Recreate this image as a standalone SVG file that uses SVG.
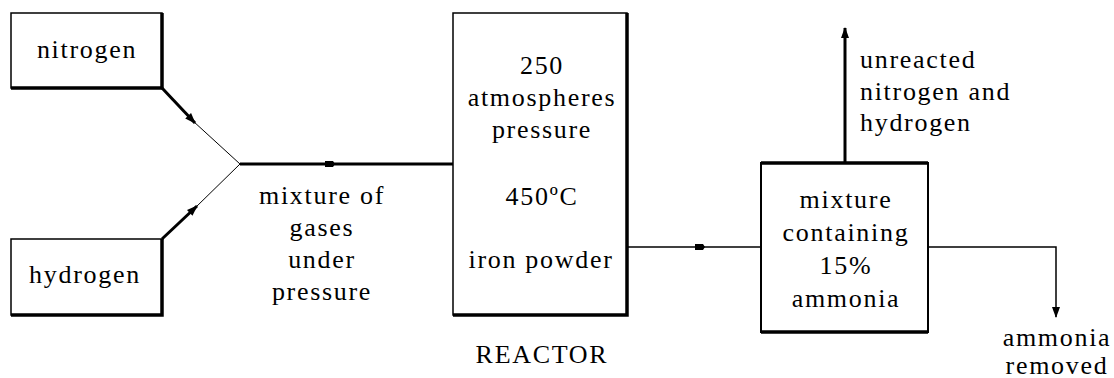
<svg xmlns="http://www.w3.org/2000/svg" width="1114" height="378" viewBox="0 0 1114 378">
<style>
.box{fill:#fff;stroke:#000;stroke-width:1.5}
.thick{fill:none;stroke:#000;stroke-width:3.5}
.ln{fill:none;stroke:#000}
</style>
<defs>
<marker id="ah" markerUnits="userSpaceOnUse" markerWidth="14" markerHeight="10" refX="10" refY="4" orient="auto">
<path d="M0,0 L11,4 L0,8 z" fill="#000"/>
</marker>
<marker id="am" markerUnits="userSpaceOnUse" markerWidth="12" markerHeight="10" refX="5" refY="4" orient="auto">
<path d="M0,1 L8,1 L10,4 L8,7 L0,7 z" fill="#000"/>
</marker>
</defs>
<g id="nitrogen" font-size="26" letter-spacing="1.7">
<rect class="box" x="11" y="13" width="151" height="75"/>
<path class="thick" d="M11,88 H162 V13"/>
<text font-family="Liberation Serif" text-anchor="middle" x="87" y="58">nitrogen</text>
</g>
<g id="hydrogen" font-size="26" letter-spacing="1.7">
<rect class="box" x="11" y="239" width="151" height="76"/>
<path class="thick" d="M11,315 H162 V239"/>
<text font-family="Liberation Serif" text-anchor="middle" x="85" y="283">hydrogen</text>
</g>
<g id="reactor" font-size="26" letter-spacing="1.7" text-anchor="middle">
<rect class="box" x="453" y="13" width="174" height="302"/>
<path class="thick" d="M453,315 H627 V13"/>
<text font-family="Liberation Serif" x="542" y="74">250</text>
<text font-family="Liberation Serif" x="542" y="106">atmospheres</text>
<text font-family="Liberation Serif" x="542" y="138">pressure</text>
<text font-family="Liberation Serif" x="542" y="205">450ºC</text>
<text font-family="Liberation Serif" x="541" y="268">iron powder</text>
<text font-family="Liberation Serif" x="542" y="363">REACTOR</text>
</g>
<g id="mixture" font-size="26" letter-spacing="1.7" text-anchor="middle">
<rect class="box" x="761" y="163" width="167" height="169" style="stroke-width:2"/>
<path class="thick" d="M761,163 H928 M761,332 H928"/>
<text font-family="Liberation Serif" x="846" y="208">mixture</text>
<text font-family="Liberation Serif" x="846" y="241">containing</text>
<text font-family="Liberation Serif" x="846" y="274">15%</text>
<text font-family="Liberation Serif" x="846" y="307">ammonia</text>
</g>
<g id="labels" font-size="26" letter-spacing="1.7">
<text font-family="Liberation Serif" text-anchor="middle" x="322" y="204">mixture of</text>
<text font-family="Liberation Serif" text-anchor="middle" x="322" y="236">gases</text>
<text font-family="Liberation Serif" text-anchor="middle" x="322" y="268">under</text>
<text font-family="Liberation Serif" text-anchor="middle" x="322" y="300">pressure</text>
<text font-family="Liberation Serif" x="860" y="68">unreacted</text>
<text font-family="Liberation Serif" x="860" y="100">nitrogen and</text>
<text font-family="Liberation Serif" x="860" y="131">hydrogen</text>
<text font-family="Liberation Serif" text-anchor="middle" x="1057" y="346">ammonia</text>
<text font-family="Liberation Serif" text-anchor="middle" x="1057" y="374">removed</text>
</g>
<g id="connectors">
<path class="ln" style="stroke-width:3" d="M162,88 L195,123" marker-end="url(#ah)"/>
<path class="ln" style="stroke-width:1" d="M193,121 L240,164"/>
<path class="ln" style="stroke-width:3" d="M162,239 L197,206" marker-end="url(#ah)"/>
<path class="ln" style="stroke-width:1" d="M195,208 L240,164"/>
<path class="ln" style="stroke-width:3" d="M240,164 L330,164 L453,164" marker-mid="url(#am)"/>
<path class="ln" style="stroke-width:1.5" d="M627,247 L700,247 L761,247" marker-mid="url(#am)"/>
<path class="ln" style="stroke-width:3" d="M845,163 L845,28" marker-end="url(#ah)"/>
<path class="ln" style="stroke-width:1.5" d="M928,247 H1056 V317" marker-end="url(#ah)"/>
</g>
</svg>
